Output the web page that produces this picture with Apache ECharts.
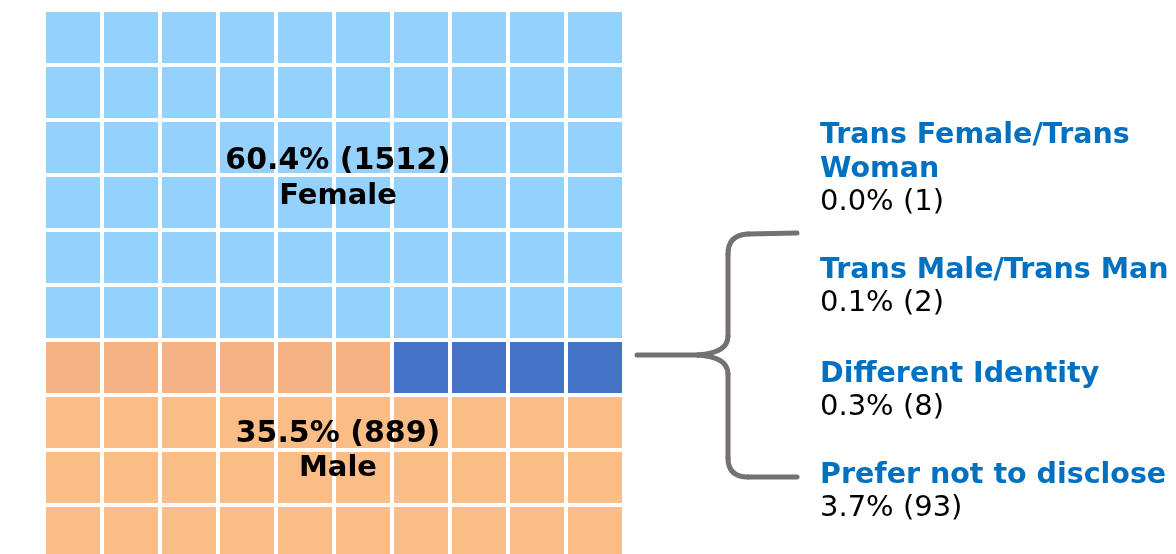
<!DOCTYPE html>
<html>
<head>
<meta charset="utf-8">
<script src="https://cdn.jsdelivr.net/npm/echarts@6/dist/echarts.min.js"></script>
<style>
  html, body { margin: 0; padding: 0; background: #fff; }
  #main { width: 1176px; height: 554px; }
</style>
</head>
<body>
<div id="main"></div>
<script>
// waffle groups, filled from the bottom-left corner, row by row
const groups = ['Male', 'Other', 'Female'];
const groupCells = [36, 4, 60];
const groupColors = ['#F9BD85', '#4472C4', '#95D1FD'];
const partialRowColor = '#F4B183';

const mainNames = ['Female', 'Male'];
const mainPcts = ['60.4%', '35.5%'];
const mainCounts = [1512, 889];

const otherNames = ['Trans Female/Trans\nWoman', 'Trans Male/Trans Man', 'Different Identity', 'Prefer not to disclose'];
const otherPcts = ['0.0%', '0.1%', '0.3%', '3.7%'];
const otherCounts = [1, 2, 8, 93];

const cols = 10, rows = 10;
const xCats = [], yCats = [];
for (let i = 0; i < cols; i++) xCats.push(i);
for (let i = 0; i < rows; i++) yCats.push(i);

const partialRow = rows - 1 - Math.floor((groupCells[0] - 1) / cols);
let cells = [];
let idx = 0;
groups.forEach(function (g, gi) {
  for (let k = 0; k < groupCells[gi]; k++) {
    const col = idx % cols;
    const row = rows - 1 - Math.floor(idx / cols);
    let color = groupColors[gi];
    // male cells sharing a row with the blue cells are a bit darker
    if (g === 'Male' && row === partialRow) color = partialRowColor;
    cells.push({ value: [col, row], itemStyle: { color: color } });
    idx++;
  }
});

const chart = echarts.init(document.getElementById('main'));
const font = '"DejaVu Sans", Verdana, sans-serif';
const mid = 7.5; // baseline -> em middle

function txt(s, x, baseline, opts) {
  return {
    type: 'text', x: x, y: baseline - mid, z: 100,
    style: Object.assign({
      text: s, fontFamily: font, fontSize: 29, fill: '#000',
      verticalAlign: 'middle', align: 'left'
    }, opts || {})
  };
}

let graphics = [];
// labels in the middle of the two big blocks
const mainBase = [[168.5, 203.5], [441.5, 476]];
mainNames.forEach(function (n, i) {
  graphics.push(txt(mainPcts[i] + ' (' + mainCounts[i] + ')', 338, mainBase[i][0], { fontWeight: 'bold', align: 'center', fontSize: 30 }));
  graphics.push(txt(n, 338, mainBase[i][1], { fontWeight: 'bold', align: 'center' }));
});

// other identities on the right
const otherBase = [143, 278.3, 381.7, 483.3];
otherNames.forEach(function (n, i) {
  const lines = n.split('\n');
  let b = otherBase[i];
  lines.forEach(function (l) {
    graphics.push(txt(l, 820, b, { fontWeight: 'bold', fill: '#0070C0', fontSize: 28.5 }));
    b += 34;
  });
  graphics.push(txt(otherPcts[i] + ' (' + otherCounts[i] + ')', 820, b - 1));
});

// brace pointing to the blue cells
const brace = { stroke: '#767171', lineWidth: 5, fill: 'none', lineCap: 'round' };
function seg(x1, y1, x2, y2) {
  return { type: 'line', shape: { x1: x1, y1: y1, x2: x2, y2: y2 }, style: brace };
}
function curve(x1, y1, cx, cy, x2, y2) {
  return { type: 'bezierCurve', shape: { x1: x1, y1: y1, cpx1: cx, cpy1: cy, x2: x2, y2: y2 }, style: brace };
}
graphics.push(
  seg(797, 233, 748, 234),
  curve(748, 234, 728, 235, 728, 254),
  seg(728, 254, 728, 336),
  curve(728, 336, 728, 353, 698, 355),
  seg(698, 355, 637, 355),
  curve(698, 355, 728, 357, 728, 374),
  seg(728, 374, 728, 458),
  curve(728, 458, 728, 477, 748, 477),
  seg(748, 477, 797, 477)
);

chart.setOption({
  animation: false,
  grid: { left: 44, top: 10, width: 580, height: 550, outerBoundsMode: 'none' },
  xAxis: { type: 'category', data: xCats, show: false },
  yAxis: { type: 'category', data: yCats, inverse: true, show: false },
  series: [{
    type: 'custom',
    renderItem: function (params, api) {
      const p = api.coord([api.value(0), api.value(1)]);
      const s = api.size([1, 1]);
      return {
        type: 'rect',
        shape: { x: p[0] - s[0] / 2 + 2, y: p[1] - s[1] / 2 + 2, width: s[0] - 4, height: s[1] - 4 },
        style: api.style()
      };
    },
    encode: { x: 0, y: 1 },
    data: cells
  }],
  graphic: graphics
});
</script>
</body>
</html>
